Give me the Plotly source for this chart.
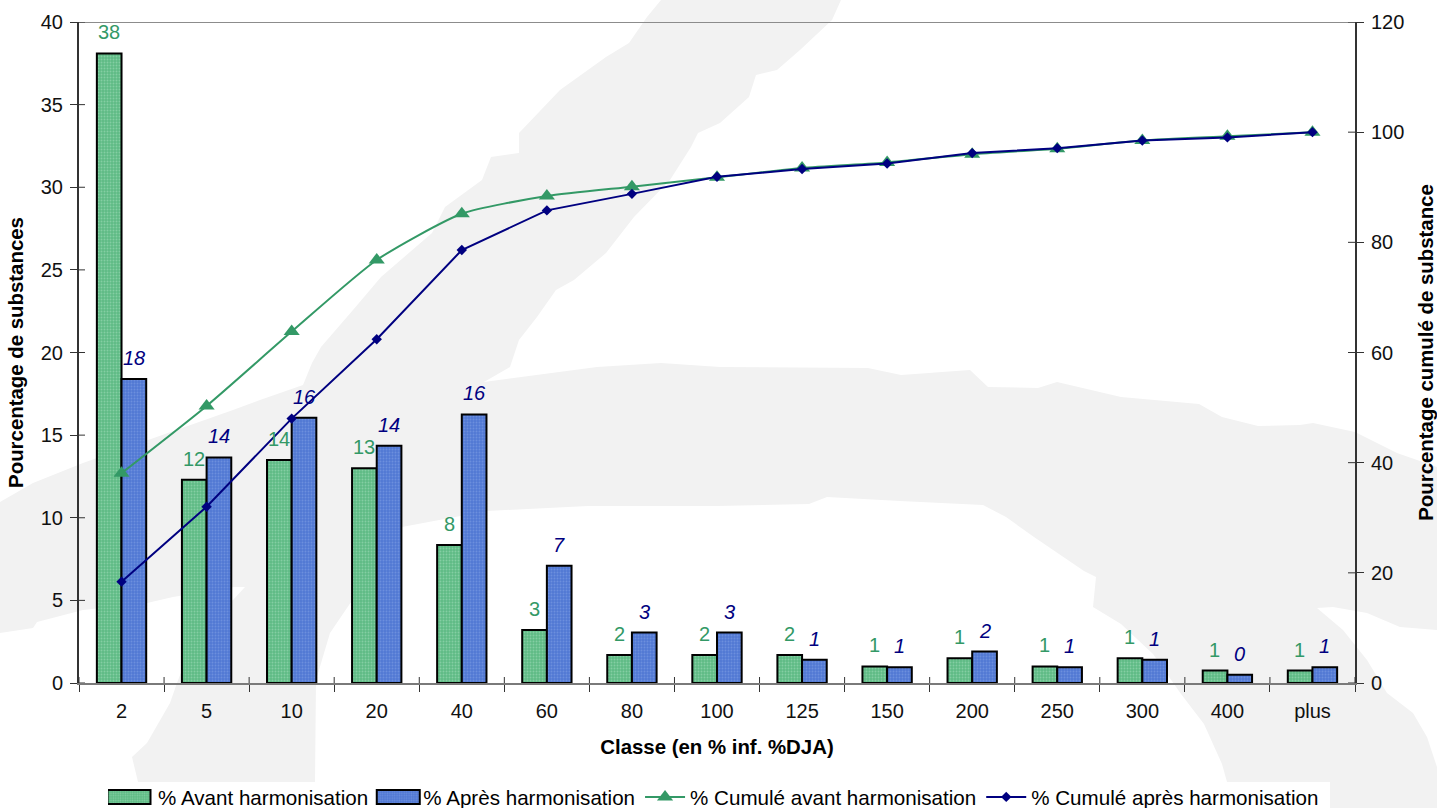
import plotly.graph_objects as go

categories = ["2", "5", "10", "20", "40", "60", "80", "100", "125", "150", "200", "250", "300", "400", "plus"]
avant = [38.1, 12.3, 13.5, 13.0, 8.35, 3.2, 1.7, 1.7, 1.7, 1.0, 1.5, 1.0, 1.5, 0.75, 0.75]
apres = [18.4, 13.65, 16.05, 14.35, 16.25, 7.1, 3.05, 3.05, 1.4, 0.95, 1.9, 0.95, 1.4, 0.5, 0.95]
cumul_avant = [38.1, 50.3, 63.8, 76.8, 85.2, 88.4, 90.1, 91.8, 93.5, 94.5, 96.0, 97.0, 98.5, 99.25, 100.0]
cumul_apres = [18.4, 32.0, 48.0, 62.4, 78.6, 85.8, 88.8, 91.9, 93.3, 94.3, 96.2, 97.1, 98.5, 99.05, 100.0]
labels_avant = ["38", "12", "14", "13", "8", "3", "2", "2", "2", "1", "1", "1", "1", "1", "1"]
labels_apres = ["18", "14", "16", "14", "16", "7", "3", "3", "1", "1", "2", "1", "1", "0", "1"]
left_ticks = [0, 5, 10, 15, 20, 25, 30, 35, 40]
right_ticks = [0, 20, 40, 60, 80, 100, 120]

W, H = 1437, 808
L, R, T, B = 79, 1355, 22, 683
GREEN, NAVY = "#339966", "#000080"
FONT = "Liberation Sans, Arial, sans-serif"

# Pale grey map watermark behind the chart (page pixels)
watermark = [
    (661,0),(647,17),(629,43),(606,57),(560,90),(519,133),(519,153),(491,157),(482,180),(445,207),
    (432,233),(381,277),(353,310),(321,347),(312,363),(303,385),(260,400),(233,410),(83,463),(33,483),(0,502),
    (0,633),(33,628),(37,622),(83,610),(147,603),(173,597),(233,587),(245,587),(233,600),(213,613),
    (187,657),(177,683),(170,703),(147,743),(132,757),(138,782),(315,782),(316,680),(330,633),(402,527),
    (487,511),(588,506),(717,506),(809,504),(827,497),(900,501),(983,505),(1006,517),(1034,537),(1084,571),
    (1096,577),(1093,607),(1121,624),(1153,654),(1181,694),(1204,724),(1222,764),(1227,782),(1330,782),
    (1330,808),(1437,808),(1437,767),(1427,737),(1413,713),(1387,693),(1367,660),(1343,630),(1317,608),
    (1333,607),(1367,613),(1400,627),(1437,630),(1437,467),(1397,453),(1355,432),(1313,423),(1300,425),
    (1258,426),(1222,417),(1199,404),(1121,397),(1057,382),(1038,388),(988,387),(970,370),(901,375),(868,368),
    (720,367),(661,363),(597,367),(484,382),(510,367),(519,340),(537,317),(556,290),(574,280),(606,253),
    (634,217),(670,180),(691,147),(698,133),(720,123),(749,97),(756,75),(777,70),(800,50),(832,20),(841,0),
]

def px(x): return (x - L) / (R - L)
def py(y): return (B - y) / (B - T)

path = "M" + "L".join(f"{px(x):.5f},{py(y):.5f}" for x, y in watermark) + "Z"

fig = go.Figure()
fig.add_trace(go.Bar(x=categories, y=avant, name="% Avant harmonisation", offsetgroup="a",
    marker=dict(color="#62bd88", line=dict(color="black", width=2),
                pattern=dict(shape=".", size=3, solidity=0.3, fgcolor="#a9e2c1", bgcolor="#5fbb85"))))
fig.add_trace(go.Bar(x=categories, y=apres, name="% Après harmonisation", offsetgroup="b",
    marker=dict(color="#5a82d8", line=dict(color="black", width=2),
                pattern=dict(shape=".", size=3, solidity=0.3, fgcolor="#86a5e6", bgcolor="#5279d4"))))
fig.add_trace(go.Scatter(x=categories, y=cumul_avant, name="% Cumulé avant harmonisation", yaxis="y2",
    mode="lines+markers", line=dict(color=GREEN, width=2, shape="spline", smoothing=0.6),
    marker=dict(symbol="triangle-up", size=14, color=GREEN)))
fig.add_trace(go.Scatter(x=categories, y=cumul_apres, name="% Cumulé après harmonisation", yaxis="y2",
    mode="lines+markers", line=dict(color=NAVY, width=2),
    marker=dict(symbol="diamond", size=8, color=NAVY)))

annotations = []
for i, (v, t) in enumerate(zip(avant, labels_avant)):
    annotations.append(dict(x=i, y=v, text=t, showarrow=False, xshift=-12.5, yshift=21,
                            font=dict(family=FONT, size=20, color=GREEN)))
for i, (v, t) in enumerate(zip(apres, labels_apres)):
    annotations.append(dict(x=i, y=v, text=f"<i>{t}</i>", showarrow=False, xshift=12.5, yshift=21,
                            font=dict(family=FONT, size=20, color=NAVY)))

shapes = [dict(type="path", path=path, xref="paper", yref="paper", layer="below",
               fillcolor="#f2f2f2", line=dict(width=0)),
          dict(type="line", xref="paper", yref="y", x0=0, x1=1, y0=40, y1=40, layer="below",
               line=dict(color="#8c8c8c", width=2))]
for v in left_ticks:
    shapes.append(dict(type="line", xref="paper", yref="y", xsizemode="pixel", xanchor=0, x0=0, x1=6, y0=v, y1=v,
                       line=dict(color="#333333", width=1)))
for v in right_ticks:
    shapes.append(dict(type="line", xref="paper", yref="y2", xsizemode="pixel", xanchor=1, x0=0, x1=-7, y0=v, y1=v,
                       line=dict(color="#333333", width=1)))
for i in range(len(categories) + 1):
    shapes.append(dict(type="line", xref="x", yref="paper", ysizemode="pixel", yanchor=0, x0=i - 0.5, x1=i - 0.5, y0=0, y1=6,
                       line=dict(color="#333333", width=1)))

tick_font = dict(family=FONT, size=20, color="#111111")
title_font = dict(family=FONT, size=20.4, color="black")
fig.update_layout(
    width=W, height=H, autosize=False,
    margin=dict(l=L, r=W - R, t=T, b=H - B, pad=0, autoexpand=False),
    paper_bgcolor="white", plot_bgcolor="rgba(0,0,0,0)",
    barmode="group", bargap=0.42, bargroupgap=0,
    showlegend=True,
    legend=dict(orientation="h", xref="container", yref="container", x=108 / W, xanchor="left",
                y=1 - 777 / H, yanchor="top", bgcolor="rgba(0,0,0,0)",
                font=dict(family=FONT, size=20.6, color="black"), traceorder="normal", itemwidth=40),
    xaxis=dict(type="category", categoryorder="array", categoryarray=categories, range=[-0.5, 14.5],
               showline=True, linecolor="#7a7a7a", linewidth=2, ticks="outside", ticklen=7, tickwidth=1,
               tickcolor="#333333", tickson="boundaries", showgrid=False, zeroline=False, automargin=False,
               tickfont=tick_font, ticklabelstandoff=9,
               title=dict(text="<b>Classe (en % inf. %DJA)</b>", font=title_font, standoff=14)),
    yaxis=dict(range=[0, 40], tickvals=left_ticks, showline=True, linecolor="#333333", linewidth=2,
               ticks="outside", ticklen=7, tickwidth=1, tickcolor="#333333", showgrid=False, zeroline=False,
               automargin=False, tickfont=tick_font, ticklabelstandoff=3,
               title=dict(text="<b>Pourcentage de substances</b>", font=title_font, standoff=18)),
    yaxis2=dict(range=[0, 120], tickvals=right_ticks, overlaying="y", side="right", showline=True,
                linecolor="#333333", linewidth=2, ticks="outside", ticklen=7, tickwidth=1, tickcolor="#333333",
                showgrid=False, zeroline=False, automargin=False, tickfont=tick_font, ticklabelstandoff=3,
                title=dict(text="<b>Pourcentage cumulé de substance</b>", font=title_font, standoff=18)),
    annotations=annotations, shapes=shapes,
)

post = """
document.body.style.margin='0';
var shifted = false;
function adjust(){
  var offsets = [21, 25], n = 0;
  document.querySelectorAll('.legend .legendpoints path').forEach(function(p){
    var d = p.getAttribute('d') || '';
    if (d.indexOf('M6,6') === 0 || d.indexOf('M21.5') === 0) {
      p.setAttribute('d','M21.5,7H-21.5V-7H21.5Z');
      p.setAttribute('transform','translate(' + offsets[n++] + ',0)');
    }
  });
  if (!shifted) {
    shifted = true;
    var yt = document.querySelector('.ytitle'), xt = document.querySelector('.xtitle');
    if (yt) yt.setAttribute('transform', 'translate(5,0) ' + (yt.getAttribute('transform') || ''));
    if (xt) xt.setAttribute('transform', 'translate(0,5) ' + (xt.getAttribute('transform') || ''));
  }
}
adjust(); setTimeout(adjust, 50); setTimeout(adjust, 300);
"""
fig.write_html("out.html", post_script=post, config={"displayModeBar": False})
